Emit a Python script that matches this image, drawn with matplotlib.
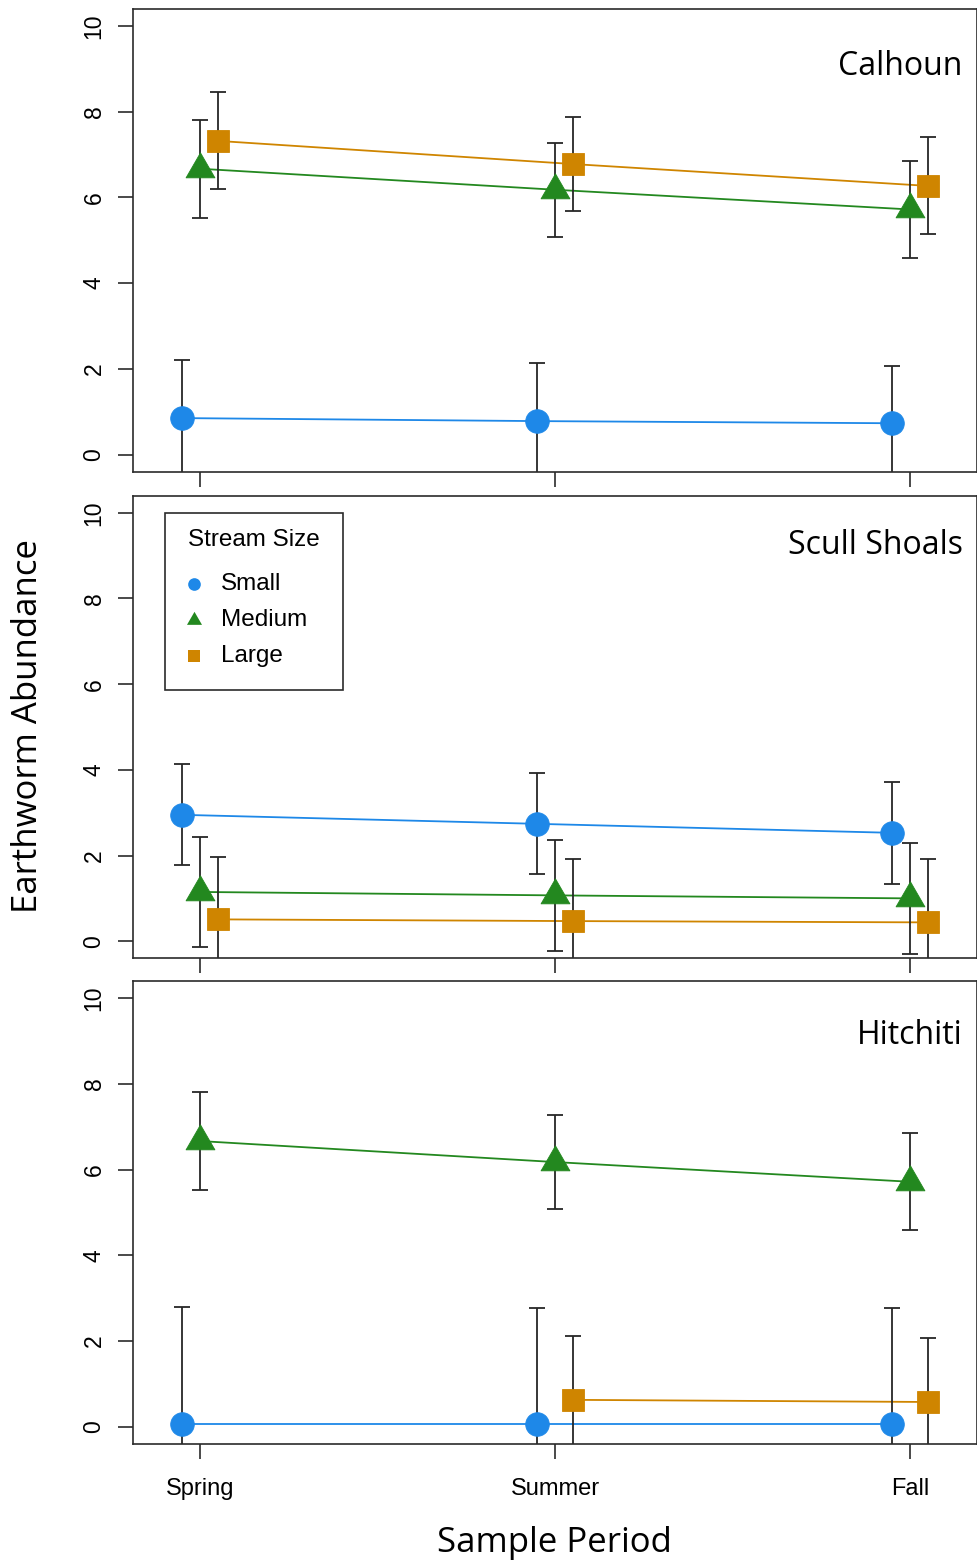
#Imports
import numpy as np
import matplotlib
matplotlib.use("Agg")
import matplotlib.pyplot as plt
from matplotlib.path import Path
from matplotlib.patches import Rectangle

plt.rcParams["font.family"] = "Liberation Sans"
plt.rcParams["axes.linewidth"] = 1.2
plt.rcParams["axes.edgecolor"] = "#2b2b2b"

#Sample periods and stream sizes
periods = ["Spring", "Summer", "Fall"]
sizes = ["Small", "Medium", "Large"]
sites = ["Calhoun", "Scull Shoals", "Hitchiti"]

#Mean abundance and error per site, in stream size order
calhoun_mean = [[0.85, 0.78, 0.73], [6.67, 6.18, 5.72], [7.32, 6.78, 6.27]]
calhoun_err = [[1.35, 1.35, 1.34], [1.14, 1.10, 1.13], [1.13, 1.10, 1.13]]

scull_mean = [[2.95, 2.74, 2.53], [1.15, 1.07, 1.00], [0.51, 0.47, 0.44]]
scull_err = [[1.18, 1.18, 1.19], [1.29, 1.29, 1.29], [1.46, 1.46, 1.47]]

hitchiti_mean = [[0.06, 0.06, 0.06], [6.67, 6.18, 5.72], [np.nan, 0.63, 0.58]]
hitchiti_err = [[2.73, 2.71, 2.71], [1.14, 1.10, 1.13], [np.nan, 1.49, 1.49]]

means = [calhoun_mean, scull_mean, hitchiti_mean]
errs = [calhoun_err, scull_err, hitchiti_err]

#Plot styles
colors = ["#1E88E8", "#23881F", "#CF8500"]
offsets = [-0.05, 0.0, 0.05]
tri = Path([(0, 1), (-0.866, -0.5), (0.866, -0.5), (0, 1)],
           [Path.MOVETO, Path.LINETO, Path.LINETO, Path.CLOSEPOLY])
markers = ["o", tri, "s"]
msizes = [17, 24, 15.6]
leg_msizes = [9.1, 12.5, 8.4]
title_y = [0.875, 0.893, 0.882]

fig = plt.figure(figsize=(9.78, 15.68), dpi=100)
bottoms = [0.6992, 0.3888, 0.0791]
x = np.arange(1, len(periods) + 1)

for i, site in enumerate(sites):
    ax = fig.add_axes([0.136, bottoms[i], 0.863, 0.2951])
    for j, size in enumerate(sizes):
        xs = x + offsets[j]
        m = np.array(means[i][j])
        e = np.array(errs[i][j])
        ax.errorbar(xs, m, yerr=e, fmt="none", ecolor="#262626",
                    elinewidth=1.3, capsize=5.6, capthick=1.3, zorder=2)
        ax.plot(xs, m, color=colors[j], lw=1.3, zorder=1)
        ax.plot(xs, m, linestyle="none", marker=markers[j], ms=msizes[j],
                color=colors[j], mec=colors[j], mew=0.6, zorder=3)
    ax.set_xlim(0.811, 3.189)
    ax.set_ylim(-0.4, 10.4)
    ax.set_xticks(x)
    ax.set_yticks([0, 2, 4, 6, 8, 10])
    ax.tick_params(axis="both", length=10.8, width=1.2, color="#2b2b2b")
    ax.tick_params(axis="y", labelsize=16.5, pad=9)
    ax.tick_params(axis="x", labelsize=17, pad=14)
    for t in ax.get_yticklabels():
        t.set_rotation(90)
        t.set_va("center")
    if i < 2:
        ax.set_xticklabels([])
    else:
        ax.set_xticklabels(periods)
    ax.text(0.983, title_y[i], site, transform=ax.transAxes, ha="right",
            va="center", fontsize=23, family="Open Sans")

    #Stream size key in the middle panel
    if i == 1:
        ax.add_patch(Rectangle((0.0379, 0.5799), 0.2109, 0.3825,
                               transform=ax.transAxes, fill=True, fc="white",
                               ec="#2b2b2b", lw=1.2, zorder=5))
        ax.text(0.0652, 0.9041, "Stream Size", transform=ax.transAxes,
                ha="left", va="center", fontsize=17.5, zorder=6)
        row_y = [0.8089, 0.7311, 0.6533]
        for k in range(3):
            ax.plot([0.0723], [row_y[k]], transform=ax.transAxes,
                    linestyle="none", marker=markers[k], ms=leg_msizes[k],
                    color=colors[k], mew=0, clip_on=False, zorder=6)
            ax.text(0.1043, row_y[k], sizes[k], transform=ax.transAxes,
                    ha="left", va="center", fontsize=17.5, zorder=6)

fig.text(0.029, 0.537, "Earthworm Abundance", rotation=90, ha="center",
         va="center", fontsize=25, family="Open Sans")
fig.text(0.567, 0.016, "Sample Period", ha="center", va="center",
         fontsize=25, family="Open Sans")

fig.savefig("out.png", dpi=100)
